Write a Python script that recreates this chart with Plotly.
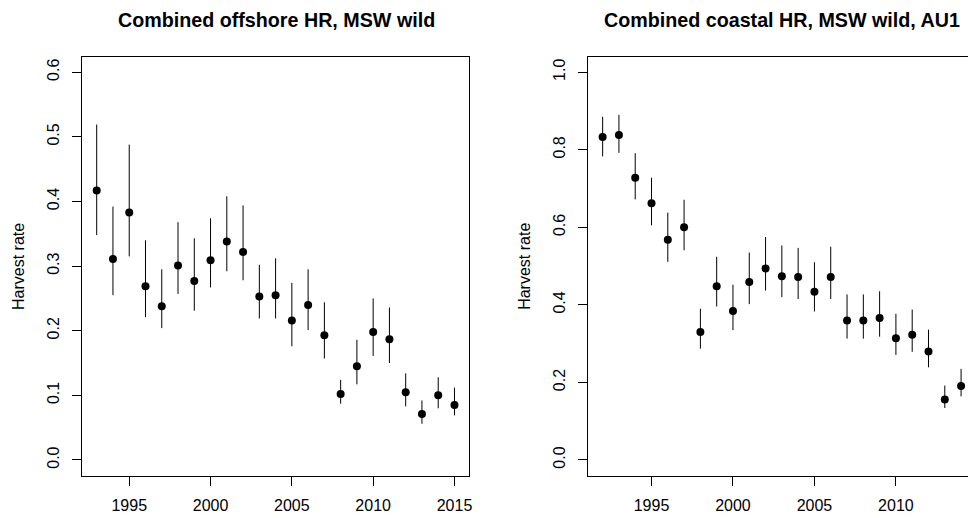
import plotly.graph_objects as go

# ---------------- data ----------------
years_off = list(range(1993, 2016))
hr_off = [0.417, 0.311, 0.383, 0.269, 0.238, 0.301, 0.277, 0.309, 0.338, 0.322, 0.253, 0.255,
          0.216, 0.240, 0.193, 0.102, 0.145, 0.198, 0.187, 0.105, 0.071, 0.100, 0.085]
hr_off_lo = [0.348, 0.255, 0.315, 0.221, 0.204, 0.257, 0.231, 0.267, 0.292, 0.278, 0.219, 0.219,
             0.176, 0.201, 0.157, 0.087, 0.117, 0.161, 0.150, 0.083, 0.056, 0.080, 0.069]
hr_off_hi = [0.519, 0.392, 0.488, 0.340, 0.295, 0.368, 0.343, 0.374, 0.408, 0.394, 0.302, 0.312,
             0.274, 0.295, 0.244, 0.124, 0.186, 0.250, 0.236, 0.134, 0.092, 0.128, 0.112]

years_coast = list(range(1992, 2015))
hr_coast = [0.833, 0.838, 0.728, 0.662, 0.568, 0.600, 0.330, 0.448, 0.384, 0.459, 0.494, 0.474,
            0.472, 0.434, 0.472, 0.360, 0.360, 0.366, 0.314, 0.323, 0.280, 0.156, 0.191]
hr_coast_lo = [0.783, 0.792, 0.672, 0.605, 0.511, 0.541, 0.287, 0.396, 0.335, 0.402, 0.437, 0.420,
               0.415, 0.383, 0.415, 0.313, 0.313, 0.318, 0.271, 0.279, 0.239, 0.134, 0.164]
hr_coast_hi = [0.885, 0.890, 0.791, 0.728, 0.638, 0.671, 0.390, 0.524, 0.452, 0.535, 0.575, 0.553,
               0.547, 0.510, 0.550, 0.427, 0.427, 0.435, 0.377, 0.388, 0.336, 0.192, 0.235]

x_ticks = [1995, 2000, 2005, 2010, 2015]
y_ticks_off = [0.0, 0.1, 0.2, 0.3, 0.4, 0.5, 0.6]
y_ticks_coast = [0.0, 0.2, 0.4, 0.6, 0.8, 1.0]

title_off = "Combined offshore HR, MSW wild"
title_coast = "Combined coastal HR, MSW wild, AU1"
y_title = "Harvest rate"

# ---------------- figure ----------------
# the page body has an 8px margin, so the figure is offset by 8px on screen
OFF = 8
W, H = 976 - OFF, 518 - OFF
FONT = "Liberation Sans, Arial, sans-serif"


def px_x(p):
    return (p - OFF) / W


def px_y(p):
    return 1 - (p - OFF) / H


fig = go.Figure()


def add_series(xs, ys, lo, hi, xa, ya):
    fig.add_trace(go.Scatter(
        x=xs, y=ys, mode="markers", xaxis=xa, yaxis=ya,
        marker=dict(color="black", size=8, symbol="circle"),
        error_y=dict(type="data", symmetric=False,
                     array=[h - v for h, v in zip(hi, ys)],
                     arrayminus=[v - l for v, l in zip(ys, lo)],
                     color="black", thickness=1, width=0),
        showlegend=False, hoverinfo="skip"))


add_series(years_off, hr_off, hr_off_lo, hr_off_hi, "x", "y")
add_series(years_coast, hr_coast, hr_coast_lo, hr_coast_hi, "x2", "y2")

ydom = [px_y(475.5), px_y(56.7)]

common_axis = dict(showgrid=False, zeroline=False, showline=True, linecolor="black", linewidth=1,
                   ticks="outside", ticklen=9, tickwidth=1, tickcolor="black",
                   tickfont=dict(family=FONT, size=16, color="black"))

fig.update_layout(
    width=W, height=H,
    margin=dict(l=0, r=0, t=0, b=0),
    paper_bgcolor="white", plot_bgcolor="white",
    xaxis=dict(domain=[px_x(82.7), px_x(470.7)], range=[1992.12, 2015.88],
               tickmode="array", tickvals=x_ticks, mirror=True, anchor="y",
               ticklabelstandoff=6, **common_axis),
    yaxis=dict(domain=ydom, range=[-0.024, 0.624], tickmode="array", tickvals=y_ticks_off,
               tickformat=".1f", tickangle=-90, mirror=True, anchor="x",
               ticklabelstandoff=7, **common_axis),
    xaxis2=dict(domain=[px_x(590.7), 1.0], range=[1991.12, 2014.67],
                tickmode="array", tickvals=x_ticks, mirror=True, anchor="y2",
                ticklabelstandoff=6, **common_axis),
    yaxis2=dict(domain=ydom, range=[-0.04, 1.04], tickmode="array", tickvals=y_ticks_coast,
                tickformat=".1f", tickangle=-90, mirror=False, anchor="x2",
                ticklabelstandoff=7, **common_axis),
)

annos = [
    dict(text="<b>" + title_off + "</b>", x=px_x(278), y=px_y(20)),
    dict(text="<b>" + title_coast + "</b>", x=px_x(785), y=px_y(20)),
]
for a in annos:
    fig.add_annotation(xref="paper", yref="paper", showarrow=False, xanchor="center",
                       yanchor="middle", font=dict(family=FONT, size=19.7, color="black"), **a)

for xp in (18, 526):
    fig.add_annotation(text=y_title, xref="paper", yref="paper", x=px_x(xp), y=px_y(266),
                       textangle=-90, showarrow=False, xanchor="center", yanchor="middle",
                       font=dict(family=FONT, size=16, color="black"))

fig.write_html("out.html")
